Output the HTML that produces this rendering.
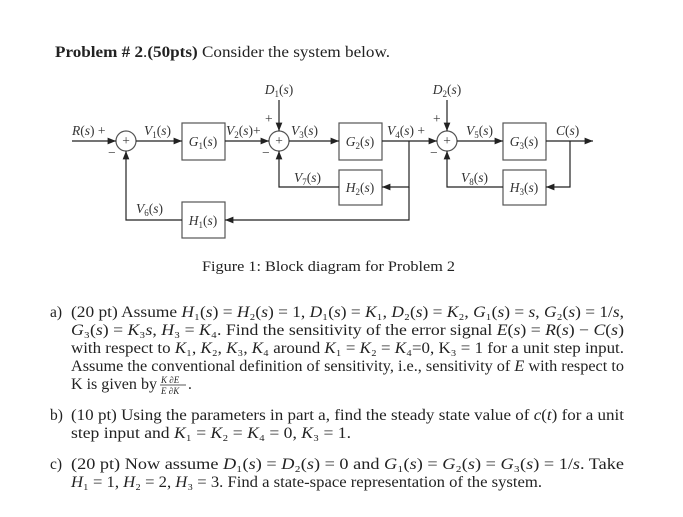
<!DOCTYPE html>
<html><head><meta charset="utf-8"><style>
html,body{margin:0;padding:0;background:#fff;width:683px;height:517px;overflow:hidden}
svg{display:block}
text{font-family:"Liberation Serif",serif;fill:#222}
.d text{fill:#333;font-size:13.5px}
.i{font-style:italic}
</style></head><body>
<svg width="683" height="517" viewBox="0 0 683 517" xmlns="http://www.w3.org/2000/svg">
<defs><marker id="a" viewBox="0 0 10 10" refX="10" refY="5" markerWidth="7" markerHeight="7" orient="auto"><path d="M0,1 L10,5 L0,9 z" fill="#222"/></marker></defs>
<text x="55" y="57" font-size="15.5" textLength="335" lengthAdjust="spacingAndGlyphs"><tspan font-weight="bold">Problem # 2</tspan>.<tspan font-weight="bold">(50pts)</tspan> Consider the system below.</text>
<g class="d" stroke="#555" stroke-width="1.2" fill="none">
<rect x="182" y="123" width="43" height="37"/>
<rect x="339" y="123" width="43" height="37"/>
<rect x="503" y="123" width="43" height="37"/>
<rect x="339" y="170" width="43" height="35"/>
<rect x="503" y="170" width="43" height="35"/>
<rect x="182" y="202" width="43" height="36"/>
<circle cx="126" cy="141" r="10"/>
<circle cx="279" cy="141" r="10"/>
<circle cx="447" cy="141" r="10"/>
<g stroke="#222" marker-end="url(#a)">
<line x1="72" y1="141" x2="116" y2="141"/>
<line x1="136" y1="141" x2="182" y2="141"/>
<line x1="225" y1="141" x2="269" y2="141"/>
<line x1="289" y1="141" x2="339" y2="141"/>
<line x1="382" y1="141" x2="437" y2="141"/>
<line x1="457" y1="141" x2="503" y2="141"/>
<line x1="546" y1="141" x2="593" y2="141"/>
<line x1="279" y1="100" x2="279" y2="131"/>
<line x1="447" y1="100" x2="447" y2="131"/>
<polyline points="339,187 279,187 279,151"/>
<polyline points="503,187 447,187 447,151"/>
<polyline points="409,141 409,187 382,187"/>
<polyline points="570,141 570,187 546,187"/>
<polyline points="409,187 409,220 225,220"/>
<polyline points="182,220 126,220 126,151"/>
</g>
</g>
<g class="d">
<text x="126" y="145" text-anchor="middle" font-size="11">+</text>
<text x="279" y="145" text-anchor="middle" font-size="11">+</text>
<text x="447" y="145" text-anchor="middle" font-size="11">+</text>
<text x="203" y="146" text-anchor="middle"><tspan class="i">G</tspan><tspan font-size="9" dy="3">1</tspan><tspan dy="-3">(</tspan><tspan class="i">s</tspan>)</text>
<text x="360" y="146" text-anchor="middle"><tspan class="i">G</tspan><tspan font-size="9" dy="3">2</tspan><tspan dy="-3">(</tspan><tspan class="i">s</tspan>)</text>
<text x="524" y="146" text-anchor="middle"><tspan class="i">G</tspan><tspan font-size="9" dy="3">3</tspan><tspan dy="-3">(</tspan><tspan class="i">s</tspan>)</text>
<text x="360" y="192" text-anchor="middle"><tspan class="i">H</tspan><tspan font-size="9" dy="3">2</tspan><tspan dy="-3">(</tspan><tspan class="i">s</tspan>)</text>
<text x="524" y="192" text-anchor="middle"><tspan class="i">H</tspan><tspan font-size="9" dy="3">3</tspan><tspan dy="-3">(</tspan><tspan class="i">s</tspan>)</text>
<text x="203" y="225" text-anchor="middle"><tspan class="i">H</tspan><tspan font-size="9" dy="3">1</tspan><tspan dy="-3">(</tspan><tspan class="i">s</tspan>)</text>
<text x="72" y="135"><tspan class="i">R</tspan>(<tspan class="i">s</tspan>) +</text>
<text x="108" y="157">−</text>
<text x="144" y="135"><tspan class="i">V</tspan><tspan font-size="9" dy="3">1</tspan><tspan dy="-3">(</tspan><tspan class="i">s</tspan>)</text>
<text x="226" y="135"><tspan class="i">V</tspan><tspan font-size="9" dy="3">2</tspan><tspan dy="-3">(</tspan><tspan class="i">s</tspan>)+</text>
<text x="265" y="123">+</text>
<text x="262" y="157">−</text>
<text x="291" y="135"><tspan class="i">V</tspan><tspan font-size="9" dy="3">3</tspan><tspan dy="-3">(</tspan><tspan class="i">s</tspan>)</text>
<text x="279" y="94" text-anchor="middle"><tspan class="i">D</tspan><tspan font-size="9" dy="3">1</tspan><tspan dy="-3">(</tspan><tspan class="i">s</tspan>)</text>
<text x="447" y="94" text-anchor="middle"><tspan class="i">D</tspan><tspan font-size="9" dy="3">2</tspan><tspan dy="-3">(</tspan><tspan class="i">s</tspan>)</text>
<text x="294" y="182"><tspan class="i">V</tspan><tspan font-size="9" dy="3">7</tspan><tspan dy="-3">(</tspan><tspan class="i">s</tspan>)</text>
<text x="387" y="135"><tspan class="i">V</tspan><tspan font-size="9" dy="3">4</tspan><tspan dy="-3">(</tspan><tspan class="i">s</tspan>) +</text>
<text x="433" y="123">+</text>
<text x="430" y="157">−</text>
<text x="466" y="135"><tspan class="i">V</tspan><tspan font-size="9" dy="3">5</tspan><tspan dy="-3">(</tspan><tspan class="i">s</tspan>)</text>
<text x="461" y="182"><tspan class="i">V</tspan><tspan font-size="9" dy="3">8</tspan><tspan dy="-3">(</tspan><tspan class="i">s</tspan>)</text>
<text x="556" y="135"><tspan class="i">C</tspan>(<tspan class="i">s</tspan>)</text>
<text x="136" y="213"><tspan class="i">V</tspan><tspan font-size="9" dy="3">6</tspan><tspan dy="-3">(</tspan><tspan class="i">s</tspan>)</text>
</g>
<text x="202" y="271" font-size="15" textLength="253" lengthAdjust="spacingAndGlyphs">Figure 1: Block diagram for Problem 2</text>
<g font-size="15.5">
<text x="50" y="317">a)</text>
<text x="71" y="317" textLength="553" lengthAdjust="spacingAndGlyphs">(20 pt) Assume <tspan class="i">H</tspan>₁(<tspan class="i">s</tspan>) = <tspan class="i">H</tspan>₂(<tspan class="i">s</tspan>) = 1, <tspan class="i">D</tspan>₁(<tspan class="i">s</tspan>) = <tspan class="i">K</tspan>₁, <tspan class="i">D</tspan>₂(<tspan class="i">s</tspan>) = <tspan class="i">K</tspan>₂, <tspan class="i">G</tspan>₁(<tspan class="i">s</tspan>) = <tspan class="i">s</tspan>, <tspan class="i">G</tspan>₂(<tspan class="i">s</tspan>) = 1/<tspan class="i">s</tspan>,</text>
<text x="71" y="335" textLength="553" lengthAdjust="spacingAndGlyphs"><tspan class="i">G</tspan>₃(<tspan class="i">s</tspan>) = <tspan class="i">K</tspan>₃<tspan class="i">s</tspan>, <tspan class="i">H</tspan>₃ = <tspan class="i">K</tspan>₄. Find the sensitivity of the error signal <tspan class="i">E</tspan>(<tspan class="i">s</tspan>) = <tspan class="i">R</tspan>(<tspan class="i">s</tspan>) − <tspan class="i">C</tspan>(<tspan class="i">s</tspan>)</text>
<text x="71" y="353" textLength="553" lengthAdjust="spacingAndGlyphs">with respect to <tspan class="i">K</tspan>₁, <tspan class="i">K</tspan>₂, <tspan class="i">K</tspan>₃, <tspan class="i">K</tspan>₄ around <tspan class="i">K</tspan>₁ = <tspan class="i">K</tspan>₂ = <tspan class="i">K</tspan>₄=0, K₃ = 1 for a unit step input.</text>
<text x="71" y="371" textLength="553" lengthAdjust="spacingAndGlyphs">Assume the conventional definition of sensitivity, i.e., sensitivity of <tspan class="i">E</tspan> with respect to</text>
<text x="71" y="389" textLength="86" lengthAdjust="spacingAndGlyphs">K is given by</text>
<text x="161" y="383" font-size="9" class="i">K ∂E</text>
<line x1="160" y1="385" x2="186" y2="385" stroke="#222" stroke-width="0.7"/>
<text x="161" y="394" font-size="9" class="i">E ∂K</text>
<text x="188" y="389">.</text>
<text x="50" y="420">b)</text>
<text x="71" y="420" textLength="553" lengthAdjust="spacingAndGlyphs">(10 pt) Using the parameters in part a, find the steady state value of <tspan class="i">c</tspan>(<tspan class="i">t</tspan>) for a unit</text>
<text x="71" y="438" textLength="280" lengthAdjust="spacingAndGlyphs">step input and <tspan class="i">K</tspan>₁ = <tspan class="i">K</tspan>₂ = <tspan class="i">K</tspan>₄ = 0, <tspan class="i">K</tspan>₃ = 1.</text>
<text x="50" y="469">c)</text>
<text x="71" y="469" textLength="553" lengthAdjust="spacingAndGlyphs">(20 pt) Now assume <tspan class="i">D</tspan>₁(<tspan class="i">s</tspan>) = <tspan class="i">D</tspan>₂(<tspan class="i">s</tspan>) = 0 and <tspan class="i">G</tspan>₁(<tspan class="i">s</tspan>) = <tspan class="i">G</tspan>₂(<tspan class="i">s</tspan>) = <tspan class="i">G</tspan>₃(<tspan class="i">s</tspan>) = 1/<tspan class="i">s</tspan>. Take</text>
<text x="71" y="487" textLength="471" lengthAdjust="spacingAndGlyphs"><tspan class="i">H</tspan>₁ = 1, <tspan class="i">H</tspan>₂ = 2, <tspan class="i">H</tspan>₃ = 3. Find a state-space representation of the system.</text>
</g>
</svg>
</body></html>
